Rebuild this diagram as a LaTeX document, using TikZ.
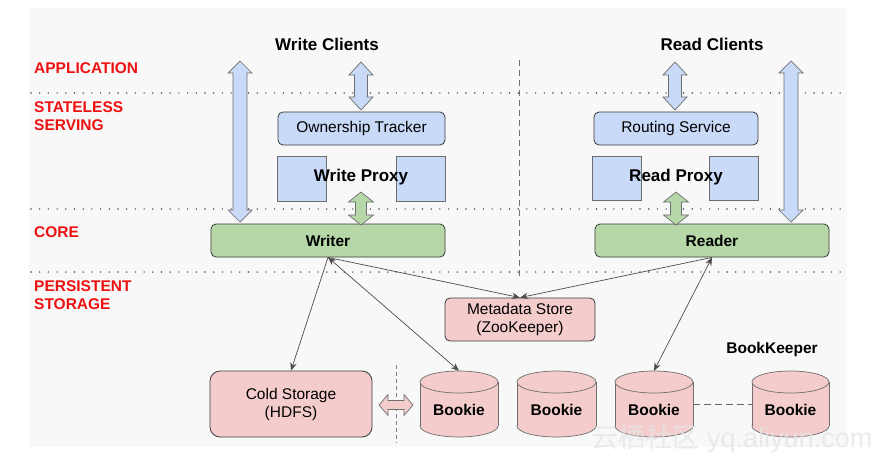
\documentclass[tikz,border=0pt]{standalone}
\usepackage{fontspec}
\setmainfont{Liberation Sans}
\newfontfamily\cjkfont{Noto Sans CJK SC}
\usetikzlibrary{arrows.meta}
\definecolor{panel}{HTML}{F8F8F8}
\definecolor{bluef}{HTML}{C9DAF8}
\definecolor{greenf}{HTML}{B6D7A8}
\definecolor{pinkf}{HTML}{F4CCCC}
\definecolor{edge}{HTML}{3A3A3A}
\definecolor{soft}{HTML}{6E6E6E}
\definecolor{layerred}{HTML}{EE1111}
\newcommand{\fnorm}{\fontsize{15.5}{18}\selectfont}
\newcommand{\fbold}{\fontsize{15.5}{18}\selectfont\bfseries}
\newcommand{\fbig}{\fontsize{17}{20}\selectfont\bfseries}
\newcommand{\vdarr}[7]{\draw[#1] (#2,#3) -- ({#2+#5},{#3+#7}) -- ({#2+#6},{#3+#7}) -- ({#2+#6},{#4-#7}) -- ({#2+#5},{#4-#7}) -- (#2,#4) -- ({#2-#5},{#4-#7}) -- ({#2-#6},{#4-#7}) -- ({#2-#6},{#3+#7}) -- ({#2-#5},{#3+#7}) -- cycle;}
\newcommand{\hdarr}[7]{\draw[#1] (#3,#2) -- ({#3+#7},{#2-#5}) -- ({#3+#7},{#2-#6}) -- ({#4-#7},{#2-#6}) -- ({#4-#7},{#2-#5}) -- (#4,#2) -- ({#4-#7},{#2+#5}) -- ({#4-#7},{#2+#6}) -- ({#3+#7},{#2+#6}) -- ({#3+#7},{#2+#5}) -- cycle;}
\newcommand{\bookiecyl}[4]{% x1 x2 ytop ybot
  \filldraw[cylline] ({(#1+#2)/2},{#4-11}) ellipse [x radius={(#2-#1)/2}, y radius=11];
  \fill[pinkf] (#1,{#3+11}) rectangle (#2,{#4-11});
  \draw[cylline] (#1,{#3+11}) -- (#1,{#4-11}) (#2,{#3+11}) -- (#2,{#4-11});
  \filldraw[cylline] ({(#1+#2)/2},{#3+11}) ellipse [x radius={(#2-#1)/2}, y radius=11];}
\begin{document}
\begin{tikzpicture}[x=1pt,y=-1pt,
  box/.style={draw=edge, line width=0.8pt, rounded corners=5pt, inner sep=0pt, font=\fnorm, align=center},
  sq/.style={draw=soft, line width=0.7pt, fill=bluef, inner sep=0pt},
  title/.style={font=\fbig, inner sep=0pt},
  layer/.style={font=\fbold, text=layerred, anchor=west, align=left, inner sep=0pt},
  dotline/.style={draw=black!70, line width=1.6pt, line cap=round, dash pattern=on 0pt off 8.7pt},
  fatarrow/.style={draw=soft, line width=0.7pt},
  cylline/.style={draw=soft, line width=0.7pt, fill=pinkf},
  conn/.style={draw=black!70, line width=0.7pt},
  tip/.style={-{Stealth[length=8pt,width=6.5pt]}},
  tips/.style={{Stealth[length=8pt,width=6.5pt]}-{Stealth[length=8pt,width=6.5pt]}}
]
\useasboundingbox (0,0) rectangle (889,464);
\fill[white] (0,0) rectangle (889,464);
\fill[panel] (29,8) rectangle (847,447);

% layer separators
\draw[dotline] (31,93) -- (847,93);
\draw[dotline] (31,209) -- (847,209);
\draw[dotline] (31,272) -- (847,272);
\draw[draw=black!55, line width=0.9pt, dash pattern=on 6pt off 4pt] (519,60) -- (519,279);
\draw[draw=black!50, line width=0.9pt, dash pattern=on 4pt off 3pt] (396,365) -- (396,443);

% layer labels
\node[layer] (lapp) at (34,68) {APPLICATION};
\node[layer] (lstl) at (34,116) {STATELESS\\SERVING};
\node[layer] (lcore) at (34,232) {CORE};
\node[layer] (lpers) at (34,295) {PERSISTENT\\STORAGE};

% titles
\node[title] (wc) at (327,44) {Write Clients};
\node[title] (rc) at (712,44) {Read Clients};

% stateless serving
\node[box, fill=bluef, minimum width=167, minimum height=33] (own) at (361.5,128.5) {Ownership Tracker};
\node[box, fill=bluef, minimum width=164, minimum height=33] (rout) at (676,128.5) {Routing Service};
\node[sq, minimum width=49, minimum height=45] (wp1) at (301.5,178.5) {};
\node[sq, minimum width=49, minimum height=45] (wp2) at (420.5,178.5) {};
\node[sq, minimum width=49, minimum height=44] (rp1) at (616.5,178) {};
\node[sq, minimum width=49, minimum height=44] (rp2) at (733.5,178) {};
\node[title] (wproxy) at (361,177.5) {Write Proxy};
\node[title] (rproxy) at (676,177.5) {Read Proxy};

% core
\node[box, fill=greenf, font=\fbold, minimum width=234, minimum height=33] (writer) at (328,240.5) {Writer};
\node[box, fill=greenf, font=\fbold, minimum width=234, minimum height=33] (reader) at (712,240.5) {Reader};

% fat arrows
\vdarr{fatarrow, fill=bluef}{240}{61}{222}{12}{7}{12}
\vdarr{fatarrow, fill=bluef}{791}{61}{222}{12}{7}{12}
\vdarr{fatarrow, fill=bluef}{361}{62}{110}{12}{6.5}{13}
\vdarr{fatarrow, fill=bluef}{675}{62}{110}{12}{6.5}{13}
\vdarr{fatarrow, fill=greenf}{361}{192}{225}{12.5}{5.5}{10}
\vdarr{fatarrow, fill=greenf}{676}{192}{225}{12.5}{5.5}{10}

% persistent storage
\node[box, fill=pinkf, minimum width=150, minimum height=43] (meta) at (520,319.5) {Metadata Store\\(ZooKeeper)};
\node[box, fill=pinkf, rounded corners=10pt, minimum width=162, minimum height=66] (cold) at (291,404) {Cold Storage\\(HDFS)};
\hdarr{fatarrow, fill=pinkf}{405}{379}{413}{10.5}{4.5}{9}

\bookiecyl{420}{498}{371}{437}
\bookiecyl{517}{596}{371}{437}
\bookiecyl{615}{693}{371}{437}
\bookiecyl{752}{829}{371}{437}
\node[font=\fbold, minimum width=78, minimum height=66, inner sep=0pt] (b1) at (459,404) {};
\node[font=\fbold, minimum width=79, minimum height=66, inner sep=0pt] (b2) at (556.5,404) {};
\node[font=\fbold, minimum width=78, minimum height=66, inner sep=0pt] (b3) at (654,404) {};
\node[font=\fbold, minimum width=77, minimum height=66, inner sep=0pt] (b4) at (790.5,404) {};
\node[font=\fbold, inner sep=0pt] at (459,410) {Bookie};
\node[font=\fbold, inner sep=0pt] at (556.5,410) {Bookie};
\node[font=\fbold, inner sep=0pt] at (654,410) {Bookie};
\node[font=\fbold, inner sep=0pt] at (790.5,410) {Bookie};
\draw[draw=black!60, line width=0.9pt, dash pattern=on 7pt off 4pt] (b3.east |- 0,404) -- (b4.west |- 0,404);
\node[font=\fbold, inner sep=0pt] (bk) at (772,349) {BookKeeper};

% connectors
\draw[conn, tip] (writer.south) -- (cold.north);
\draw[conn, tips] (writer.south) -- (b1.north);
\draw[conn, tip] (writer.south) -- (meta.north);
\draw[conn, tip] (reader.south) -- (meta.north);
\draw[conn, tips] (reader.south) -- (b3.north);

% watermark
\node[text=black!10, opacity=0.75, font=\fontsize{27}{29}\selectfont, inner sep=0pt] (wm) at (732,439) {{\cjkfont 云栖社区} yq.aliyun.com};
\end{tikzpicture}
\end{document}
